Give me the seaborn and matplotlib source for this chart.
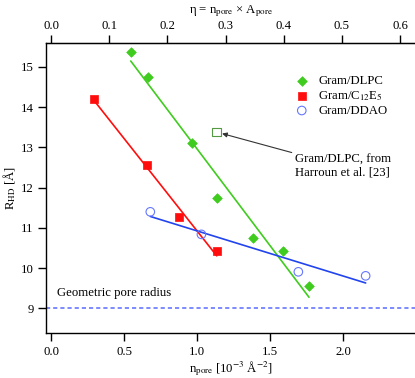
import numpy as np
import pandas as pd
import matplotlib
matplotlib.use("Agg")
import matplotlib.pyplot as plt
import seaborn as sns

# Datos
dlpc_n = [0.546, 0.662, 0.964, 1.135, 1.381, 1.591, 1.767]
dlpc_r = [15.38, 14.76, 13.11, 11.75, 10.74, 10.43, 9.55]
c12_n = [0.295, 0.660, 0.879, 1.135]
c12_r = [14.19, 12.56, 11.26, 10.43]
ddao_n = [0.680, 1.030, 1.694, 2.155]
ddao_r = [11.40, 10.84, 9.91, 9.81]
harroun_n = [1.135]
harroun_r = [13.38]
radio_poro = 9.0
area_poro = 251.0  # Å^2
x_ticks = [0.0, 0.5, 1.0, 1.5, 2.0]
eta_ticks = [0.0, 0.1, 0.2, 0.3, 0.4, 0.5, 0.6]
y_ticks = [9, 10, 11, 12, 13, 14, 15]

verde = '#3fcc1e'
rojo = '#ff0d0d'
azul = '#2244ee'
azul_claro = '#6677ff'

sns.set_style('ticks')
plt.rcParams['font.family'] = ['Liberation Serif', 'DejaVu Serif']
plt.rcParams['mathtext.fontset'] = 'stix'
plt.rcParams['font.size'] = 9.2
for k in ['text.color', 'axes.labelcolor', 'xtick.color', 'ytick.color', 'axes.edgecolor']:
    plt.rcParams[k] = 'black'

fig = plt.figure(figsize=(4.15, 3.78), dpi=100)
ax = fig.add_axes([0.111, 0.119, 0.889, 0.768])

# Ajustes lineales
sns.regplot(x=dlpc_n, y=dlpc_r, ax=ax, scatter=False, ci=None, truncate=True,
            line_kws=dict(color=verde, lw=1.2))
sns.regplot(x=c12_n, y=c12_r, ax=ax, scatter=False, ci=None, truncate=True,
            line_kws=dict(color=rojo, lw=1.2))
sns.regplot(x=ddao_n, y=ddao_r, ax=ax, scatter=False, ci=None, truncate=True,
            line_kws=dict(color=azul, lw=1.2))

# Puntos
sns.scatterplot(x=dlpc_n, y=dlpc_r, ax=ax, marker='D', s=24, color=verde,
                edgecolor=verde, linewidth=0.5, label='Gram/DLPC', zorder=3)
sns.scatterplot(x=c12_n, y=c12_r, ax=ax, marker='s', s=40, color=rojo,
                edgecolor=rojo, linewidth=0.5, label='Gram/C$_{12}$E$_5$', zorder=3)
ax.scatter(ddao_n, ddao_r, marker='o', s=38, facecolors='none',
           edgecolors=azul_claro, linewidths=0.8, label='Gram/DDAO', zorder=3)
ax.scatter(harroun_n, harroun_r, marker='s', s=40, facecolors='none',
           edgecolors='#559944', linewidths=0.8, zorder=3)

# Radio geométrico del poro
ax.axhline(radio_poro, color=azul_claro, lw=1.2, ls=(0, (2.5, 1.8)), zorder=1)
ax.text(0.041, 9.38, 'Geometric pore radius', ha='left', va='center')

ax.annotate('Gram/DLPC, from\nHarroun et al. [23]', xy=(harroun_n[0], harroun_r[0]),
            xytext=(1.671, 12.85), ha='left', va='top',
            linespacing=1.15,
            arrowprops=dict(arrowstyle='-|>', color='#333333', lw=0.8,
                            mutation_scale=7, relpos=(0, 1), shrinkA=0, shrinkB=4))

ax.set_xlim(-0.034, 2.493)
ax.set_ylim(8.39, 15.6)
ax.set_xticks(x_ticks)
ax.set_xticklabels([f'{t:.1f}' for t in x_ticks])
ax.set_yticks(y_ticks)
ax.set_xlabel('n$_{\\mathrm{pore}}$ [10$^{-3}$ Å$^{-2}$]', labelpad=1)
ax.set_ylabel('R$_{\\mathrm{HD}}$ [Å]', labelpad=2)
ax.tick_params(direction='out', length=6, width=1, labelsize=9.2, pad=3)

# Eje superior: fracción de área
sec = ax.secondary_xaxis('top', functions=(lambda n: n * area_poro * 1e-3,
                                           lambda e: e / (area_poro * 1e-3)))
sec.set_xticks(eta_ticks)
sec.set_xticklabels([f'{t:.1f}' for t in eta_ticks])
sec.set_xlabel('η = n$_{\\mathrm{pore}}$ × A$_{\\mathrm{pore}}$', labelpad=4.5)
sec.tick_params(direction='out', length=6, width=1, labelsize=9.2, pad=2)

ax.spines['right'].set_visible(False)
for s in ['left', 'bottom']:
    ax.spines[s].set_linewidth(1)
sec.spines['top'].set_linewidth(1)

ax.legend(loc='upper left', bbox_to_anchor=(0.655, 0.91), frameon=False,
          fontsize=9.2, handletextpad=0.7, labelspacing=0.15, handlelength=1.2,
          borderpad=0)

fig.savefig('out.png', dpi=100)
